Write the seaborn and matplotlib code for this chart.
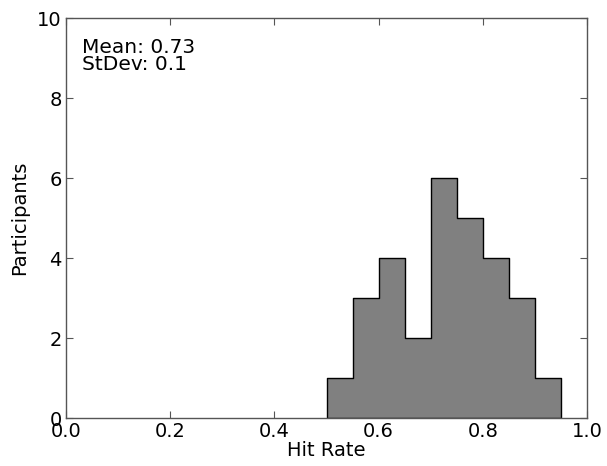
import matplotlib
matplotlib.use("Agg")
import matplotlib.pyplot as plt
import seaborn as sns
import numpy as np
import pandas as pd

bin_edges = [0.50, 0.55, 0.60, 0.65, 0.70, 0.75, 0.80, 0.85, 0.90, 0.95]
counts = [1, 3, 4, 2, 6, 5, 4, 3, 1]
x_ticks = [0.0, 0.2, 0.4, 0.6, 0.8, 1.0]
y_ticks = [0, 2, 4, 6, 8, 10]
stats_text = "Mean: 0.73\nStDev: 0.1"

sns.set_style("ticks")
plt.rcParams['font.family'] = ['DejaVu Sans']
plt.rcParams['text.color'] = 'black'
plt.rcParams['axes.labelcolor'] = 'black'

centers = [(bin_edges[i] + bin_edges[i + 1]) / 2 for i in range(len(counts))]
df = pd.DataFrame({"Hit Rate": centers, "n": counts})

fig = plt.figure(figsize=(6.07, 4.66), dpi=100)
ax = fig.add_axes([66/607, 1 - 418/466, (587 - 66)/607, (418 - 18)/466])

sns.histplot(data=df, x="Hit Rate", weights="n", bins=bin_edges, element="step",
             fill=True, color="#808080", alpha=1.0, edgecolor="black", linewidth=1.0, ax=ax)

ax.set_xlim(0, 1)
ax.set_ylim(0, 10)
ax.set_xticks(x_ticks)
ax.set_yticks(y_ticks)
ax.set_xticklabels([f"{v:.1f}" for v in x_ticks])
ax.set_yticklabels([str(v) for v in y_ticks])
ax.tick_params(direction="in", top=True, right=True, length=5, width=0.8,
               labelsize=14, colors="#555555", labelcolor="black", pad=3)
for s in ax.spines.values():
    s.set_visible(True)
    s.set_color("#555555")
    s.set_linewidth(1.0)
ax.set_xlabel("Hit Rate", fontsize=14, labelpad=0, color="black")
ax.set_ylabel("Participants", fontsize=14, labelpad=6, color="black")
ax.text(0.03, 9.5, stats_text, fontsize=14.5, va="top", ha="left", linespacing=0.85,
        color="black")

fig.savefig("out.png", dpi=100)
